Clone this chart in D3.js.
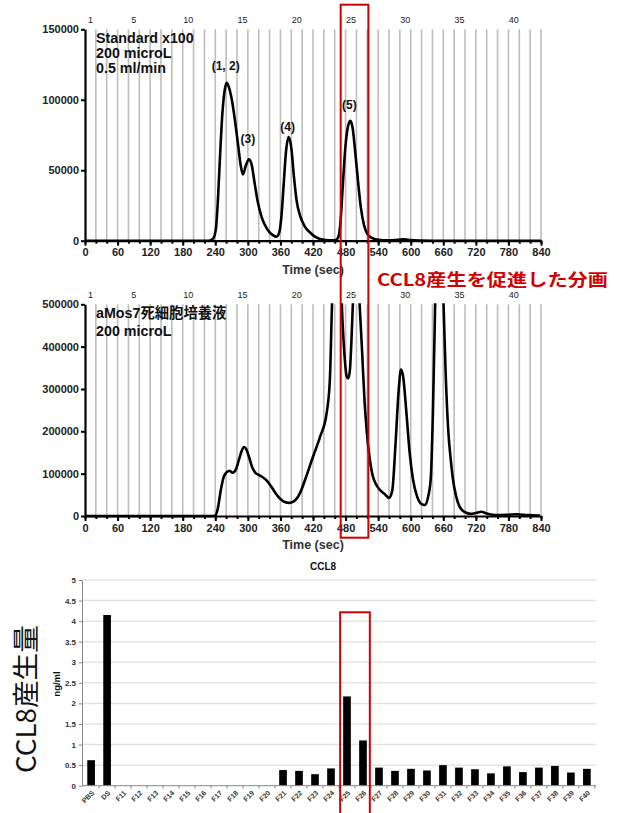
<!DOCTYPE html>
<html lang="ja">
<head>
<meta charset="UTF-8">
<title>CCL8 fractions</title>
<script src="https://cdn.jsdelivr.net/npm/d3@7"></script>
<style>
  body { margin: 0; background: #fff; }
  text { font-family: "Liberation Sans", Arial, "Noto Sans CJK JP", sans-serif; }
</style>
</head>
<body>
<div id="chart"></div>
<script>
// ---- data ----
// standard run (sec, signal)
var stdTrace = [[0,0],[220,0],[228,0],[236,1500],[241,8000],[245,30000],[249,62000],[253,90000],[257,106000],
  [261,112000],[265,109000],[270,101000],[276,86000],[282,68000],[287,53000],[291,47000],[296,53000],[302,57700],
  [307,54000],[312,42000],[318,28000],[326,16000],[336,8000],[346,4000],[353,2800],[358,6000],[362,18000],
  [366,40000],[370,62000],[375,73500],[380,66000],[385,45000],[390,28000],[396,18000],[405,10000],[414,6000],
  [425,2500],[440,700],[455,300],[462,500],[467,3000],[471,15000],[475,40000],[480,68000],[485,82000],
  [489,85000],[493,80000],[498,62000],[503,42000],[508,24000],[514,11000],[520,5000],[528,2000],[540,700],
  [560,300],[575,600],[588,1000],[600,400],[620,100],[640,0],[840,0]];

// aMos7 dead-cell supernatant run (sec, signal)
var sampleTrace = [[0,0],[236,0],[240,1000],[245,20000],[250,60000],[255,90000],[260,102000],[266,107000],
  [272,102000],[278,110000],[284,135000],[289,155000],[293,163000],[297,158000],[302,140000],[308,115000],
  [314,102000],[320,97000],[328,91000],[336,82000],[344,68000],[352,52000],[360,40000],[368,33000],[376,31000],
  [384,34000],[392,45000],[396,54000],[408,95000],[420,140000],[433,187000],[445,242000],[451,320000],
  [455,500000],[462,760000],[470,600000],[474,470000],[478,380000],[482,330000],[485,325000],[488,345000],
  [491,420000],[494,520000],[500,640000],[505,520000],[510,400000],[515,270000],[519,200000],[524,140000],
  [530,95000],[536,75000],[543,62000],[552,52000],[560,43000],[566,60000],[572,170000],[578,300000],
  [582,346000],[586,330000],[592,245000],[598,150000],[604,88000],[612,45000],[620,28000],[626,26000],
  [632,45000],[637,90000],[641,250000],[645,500000],[652,1000000],[660,520000],[664,350000],[669,205000],
  [674,130000],[678,85000],[684,45000],[690,22000],[700,9000],[710,5000],[720,7000],[730,10000],[740,6000],
  [758,2000],[780,3000],[795,4000],[815,2000],[838,1000]];

var stdLines = ["Standard x100", "200 microL", "0.5 ml/min"];
var sampleLines = ["aMos7死細胞培養液", "200 microL"];
var peakLabels = [
  {text: "(1, 2)", t: 261, v: 112000, dy: -13},
  {text: "(3)", t: 302, v: 57700, dy: -16},
  {text: "(4)", t: 375, v: 73500, dy: -6},
  {text: "(5)", t: 489, v: 85000, dy: -12}
];
var fractionLabels = [1, 5, 10, 15, 20, 25, 30, 35, 40];
var fractionCount = 42;          // 20 s per fraction
var timeTicks = d3.range(0, 841, 60);
var stdTicks = [0, 50000, 100000, 150000];
var sampleTicks = [0, 100000, 200000, 300000, 400000, 500000];

// CCL8 ELISA
var barCategories = ["PBS","DS","F11","F12","F13","F14","F15","F16","F17","F18","F19","F20",
  "F21","F22","F23","F24","F25","F26","F27","F28","F29","F30","F31","F32","F33","F34","F35",
  "F36","F37","F38","F39","F40"];
var barValues = [0.62,4.15,0,0,0,0,0,0,0,0,0,0,
  0.38,0.36,0.28,0.42,2.17,1.10,0.44,0.36,0.41,0.37,0.50,0.44,0.40,0.30,0.47,
  0.33,0.44,0.48,0.32,0.41];
var barTicks = [0,0.5,1,1.5,2,2.5,3,3.5,4,4.5,5];

// ---- drawing ----
var W = 617, H = 813;
var red = "#d10000";

var svg = d3.select("#chart").append("svg")
  .attr("width", W).attr("height", H);

var x = d3.scaleLinear().domain([0, 840]).range([85, 541]);

function drawTrace(top, bottom, yMax, ticks, data, lines, lineGap, id) {
  var y = d3.scaleLinear().domain([0, yMax]).range([bottom, top]);
  var g = svg.append("g");

  // fraction boundaries
  g.append("g").selectAll("line")
    .data(d3.range(1, fractionCount + 1))
    .enter().append("line")
      .attr("x1", function (n) { return x(n * 20); })
      .attr("x2", function (n) { return x(n * 20); })
      .attr("y1", top).attr("y2", bottom)
      .attr("stroke", "#bdbdbd").attr("stroke-width", 1.6);

  // fraction numbers
  g.append("g").selectAll("text")
    .data(fractionLabels)
    .enter().append("text")
      .attr("x", function (n) { return x((n - 0.5) * 20); })
      .attr("y", top - 6)
      .attr("text-anchor", "middle")
      .attr("font-size", 9)
      .attr("fill", "#222")
      .text(function (n) { return n; });

  // trace, clipped to plot
  svg.append("clipPath").attr("id", id)
    .append("rect").attr("x", 85).attr("y", top - 1).attr("width", 460).attr("height", bottom - top + 3);

  var line = d3.line()
    .x(function (d) { return x(d[0]); })
    .y(function (d) { return y(d[1]); })
    .curve(d3.curveMonotoneX);

  g.append("path")
    .datum(data)
    .attr("clip-path", "url(#" + id + ")")
    .attr("d", line)
    .attr("fill", "none")
    .attr("stroke", "#000")
    .attr("stroke-width", 2.6)
    .attr("stroke-linejoin", "round");

  // axes
  var xMinor = g.append("g")
    .attr("transform", "translate(0," + bottom + ")")
    .call(d3.axisBottom(x).tickValues(d3.range(0, 841, 20)).tickFormat("").tickSize(3).tickSizeOuter(0));
  xMinor.select(".domain").remove();
  xMinor.selectAll("line").attr("stroke-width", 2);

  var xAxis = g.append("g")
    .attr("transform", "translate(0," + bottom + ")")
    .call(d3.axisBottom(x).tickValues(timeTicks).tickSize(5).tickSizeOuter(0).tickPadding(3));
  xAxis.select(".domain").attr("stroke-width", 2.2);
  xAxis.selectAll("line").attr("stroke-width", 2);
  xAxis.selectAll("text").attr("font-size", 11).attr("font-weight", "bold").attr("fill", "#222");

  var yAxis = g.append("g")
    .attr("transform", "translate(85,0)")
    .call(d3.axisLeft(y).tickValues(ticks).tickFormat(d3.format("d")).tickSize(4).tickSizeOuter(0).tickPadding(2));
  yAxis.select(".domain").attr("stroke-width", 2.2);
  yAxis.selectAll("line").attr("stroke-width", 2);
  yAxis.selectAll("text").attr("font-size", 11).attr("font-weight", "bold").attr("fill", "#222");

  g.append("text")
    .attr("x", 313).attr("y", bottom + 33)
    .attr("text-anchor", "middle")
    .attr("font-size", 12.5).attr("font-weight", "bold").attr("fill", "#333")
    .text("Time (sec)");

  // run description
  g.append("g").selectAll("text")
    .data(lines)
    .enter().append("text")
      .attr("x", 96)
      .attr("y", function (d, i) { return top + 14 + i * lineGap; })
      .attr("font-size", 14.3).attr("font-weight", "bold").attr("fill", "#111")
      .text(function (d) { return d; });

  return {g: g, y: y};
}

var top1 = drawTrace(29.3, 240.7, 150000, stdTicks, stdTrace, stdLines, 14.7, "clip1");
var top2 = drawTrace(304.3, 516, 500000, sampleTicks, sampleTrace, sampleLines, 18, "clip2");

// peak labels on the standard
top1.g.append("g").selectAll("text")
  .data(peakLabels)
  .enter().append("text")
    .attr("x", function (d) { return x(d.t) - 1; })
    .attr("y", function (d) { return top1.y(d.v) + d.dy; })
    .attr("text-anchor", "middle")
    .attr("font-size", 12).attr("font-weight", "bold").attr("fill", "#111")
    .text(function (d) { return d.text; });

// ---- bar chart ----
var bx = d3.scaleBand().domain(barCategories).range([82, 596]).paddingInner(0.52).paddingOuter(0.33);
var by = d3.scaleLinear().domain([0, 5]).range([785.7, 580]);

var bg = svg.append("g");

bg.append("g").selectAll("line")
  .data(barTicks.slice(1))
  .enter().append("line")
    .attr("x1", 82).attr("x2", 596)
    .attr("y1", function (d) { return by(d); })
    .attr("y2", function (d) { return by(d); })
    .attr("stroke", "#e4e4e4").attr("stroke-width", 1.5);

bg.append("g").selectAll("rect")
  .data(barValues)
  .enter().append("rect")
    .attr("x", function (d, i) { return bx(barCategories[i]); })
    .attr("y", function (d) { return by(d); })
    .attr("width", bx.bandwidth())
    .attr("height", function (d) { return by(0) - by(d); })
    .attr("fill", "#000");

var byAxis = bg.append("g")
  .attr("transform", "translate(82,0)")
  .call(d3.axisLeft(by).tickValues(barTicks).tickFormat(d3.format("~g")).tickSize(3).tickSizeOuter(0).tickPadding(3));
byAxis.select(".domain").attr("stroke", "#888");
byAxis.selectAll("line").attr("stroke", "#888");
byAxis.selectAll("text").attr("font-size", 8).attr("font-weight", "bold").attr("fill", "#333");

// category boundary ticks
var step = bx.step();
var bxAxis = bg.append("g").attr("transform", "translate(0,785.7)");
bxAxis.append("line").attr("x1", 82).attr("x2", 596).attr("stroke", "#888");
bxAxis.selectAll("line.tk")
  .data(barCategories)
  .enter().append("line")
    .attr("class", "tk")
    .attr("x1", function (d) { return bx(d) + bx.bandwidth() / 2 + step / 2; })
    .attr("x2", function (d) { return bx(d) + bx.bandwidth() / 2 + step / 2; })
    .attr("y1", 0).attr("y2", 3)
    .attr("stroke", "#888");
bxAxis.selectAll("text")
  .data(barCategories)
  .enter().append("text")
    .attr("transform", function (d) {
      return "translate(" + (bx(d) + bx.bandwidth() / 2 + 2) + ",6) rotate(-45)";
    })
    .attr("text-anchor", "end")
    .attr("dy", "0.35em")
    .attr("font-size", 7).attr("font-weight", "bold").attr("fill", "#333")
    .text(function (d) { return d; });

bg.append("text")
  .attr("x", 310).attr("y", 570)
  .attr("font-size", 10).attr("font-weight", "bold").attr("fill", "#111")
  .text("CCL8");

bg.append("text")
  .attr("transform", "translate(60,684) rotate(-90)")
  .attr("text-anchor", "middle")
  .attr("font-size", 9.5).attr("font-weight", "bold").attr("fill", "#111")
  .text("ng/ml");

bg.append("text")
  .attr("transform", "translate(36,699) rotate(-90)")
  .attr("text-anchor", "middle")
  .attr("font-size", 27).attr("fill", "#111")
  .attr("textLength", 148).attr("lengthAdjust", "spacingAndGlyphs")
  .style("font-family", "'Noto Sans CJK JP', 'Liberation Sans', sans-serif")
  .text("CCL8産生量");

// ---- highlight boxes ----
svg.append("rect")
  .attr("x", x(471)).attr("y", 4.7)
  .attr("width", x(522) - x(471)).attr("height", 533)
  .attr("fill", "none").attr("stroke", red).attr("stroke-width", 2);

var boxL = bx("F25") - 3, boxR = bx("F26") + bx.bandwidth() + 3;
svg.append("rect")
  .attr("x", boxL).attr("y", 612.3)
  .attr("width", boxR - boxL).attr("height", 210)
  .attr("fill", "none").attr("stroke", red).attr("stroke-width", 2);

svg.append("text")
  .attr("x", 377).attr("y", 285.5)
  .attr("font-size", 16.5).attr("font-weight", "bold").attr("fill", red)
  .attr("textLength", 231).attr("lengthAdjust", "spacingAndGlyphs")
  .style("font-family", "'Noto Sans CJK JP', 'Liberation Sans', sans-serif")
  .text("CCL8産生を促進した分画");
</script>
</body>
</html>
